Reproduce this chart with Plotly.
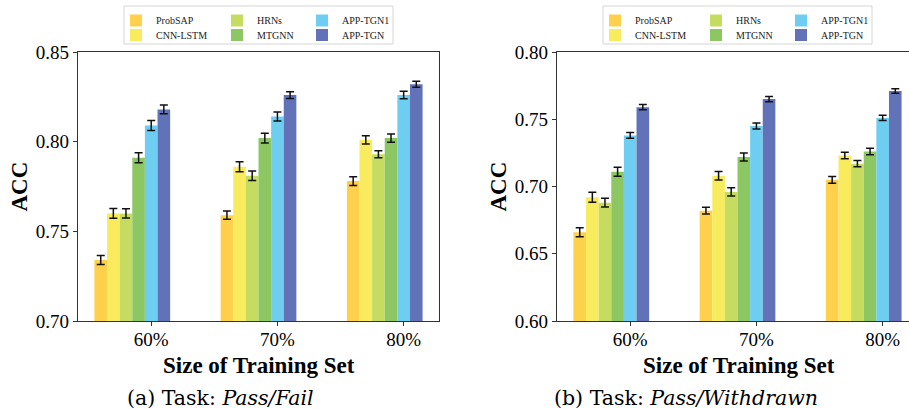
import plotly.graph_objects as go

W, H = 909, 409

# ---------------- data ----------------
size_labels = ["60%", "70%", "80%"]
methods = ["ProbSAP", "CNN-LSTM", "HRNs", "MTGNN", "APP-TGN1", "APP-TGN"]
colors = ["#FFD04C", "#F8EC5E", "#C6DC60", "#8CC764", "#6ECEF2", "#6272B8"]

# Task (a): Pass/Fail  (ACC)
pf_probsap = [0.734, 0.759, 0.778]
pf_cnnlstm = [0.760, 0.786, 0.801]
pf_hrns = [0.760, 0.781, 0.793]
pf_mtgnn = [0.791, 0.802, 0.802]
pf_apptgn1 = [0.809, 0.814, 0.826]
pf_apptgn = [0.818, 0.826, 0.832]

pf_probsap_err = [0.0025, 0.0023, 0.0025]
pf_cnnlstm_err = [0.0027, 0.0028, 0.0023]
pf_hrns_err = [0.0026, 0.0026, 0.0020]
pf_mtgnn_err = [0.0028, 0.0027, 0.0023]
pf_apptgn1_err = [0.0028, 0.0025, 0.0021]
pf_apptgn_err = [0.0024, 0.0019, 0.0017]

# Task (b): Pass/Withdrawn  (ACC)
pw_probsap = [0.666, 0.682, 0.705]
pw_cnnlstm = [0.692, 0.708, 0.723]
pw_hrns = [0.688, 0.696, 0.717]
pw_mtgnn = [0.711, 0.722, 0.726]
pw_apptgn1 = [0.738, 0.745, 0.751]
pw_apptgn = [0.759, 0.765, 0.771]

pw_probsap_err = [0.0033, 0.0025, 0.0025]
pw_cnnlstm_err = [0.0037, 0.0031, 0.0024]
pw_hrns_err = [0.0032, 0.0030, 0.0024]
pw_mtgnn_err = [0.0033, 0.0030, 0.0024]
pw_apptgn1_err = [0.0022, 0.0022, 0.0019]
pw_apptgn_err = [0.0020, 0.0019, 0.0016]

pf_vals = [pf_probsap, pf_cnnlstm, pf_hrns, pf_mtgnn, pf_apptgn1, pf_apptgn]
pf_errs = [pf_probsap_err, pf_cnnlstm_err, pf_hrns_err, pf_mtgnn_err, pf_apptgn1_err, pf_apptgn_err]
pw_vals = [pw_probsap, pw_cnnlstm, pw_hrns, pw_mtgnn, pw_apptgn1, pw_apptgn]
pw_errs = [pw_probsap_err, pw_cnnlstm_err, pw_hrns_err, pw_mtgnn_err, pw_apptgn1_err, pw_apptgn_err]

x_title = "Size of Training Set"
y_title = "ACC"
captions = ["(a) Task: <i>Pass/Fail</i>", "(b) Task: <i>Pass/Withdrawn</i>"]

# ---------------- helpers ----------------
SERIF = "Liberation Serif"
x_pos = list(range(len(size_labels)))
tick_pos = [p + 0.15 for p in x_pos]  # tick sits under the 5th bar of each group


def px_x(p):
    return p / W


def px_y(p):
    return 1 - p / H


fig = go.Figure()

# one legend per entry so rows can be packed tightly (3 columns x 2 rows)
leg_left = [f"legend{i + 1}" if i else "legend" for i in range(6)]
leg_right = [f"legend{i + 7}" for i in range(6)]

for i, m in enumerate(methods):
    fig.add_trace(go.Bar(
        x=x_pos, y=pf_vals[i], name=m, marker=dict(color=colors[i], line=dict(width=0)),
        error_y=dict(type="data", array=pf_errs[i], color="#111111", thickness=1.5, width=4),
        xaxis="x", yaxis="y", legend=leg_left[i], showlegend=True,
    ))
for i, m in enumerate(methods):
    fig.add_trace(go.Bar(
        x=x_pos, y=pw_vals[i], name=m, marker=dict(color=colors[i], line=dict(width=0)),
        error_y=dict(type="data", array=pw_errs[i], color="#111111", thickness=1.5, width=4),
        xaxis="x2", yaxis="y2", legend=leg_right[i], showlegend=True,
    ))

axis_line = "#333333"
tickfont = dict(family=SERIF, size=19, color="#000000")
titlefont = dict(family=SERIF, size=23, color="#000000", weight="bold")

ydom = [px_y(321), px_y(52)]

common_x = dict(
    tickmode="array", tickvals=tick_pos, ticktext=size_labels,
    showgrid=False, zeroline=False, showline=True, linecolor=axis_line, linewidth=1.2,
    ticks="outside", ticklen=4, tickcolor=axis_line, tickwidth=1.2,
    tickfont=tickfont, automargin=False, ticklabelstandoff=-3,
)
common_y = dict(
    showgrid=False, zeroline=False, showline=True, linecolor=axis_line, linewidth=1.2,
    ticks="outside", ticklen=4, tickcolor=axis_line, tickwidth=1.2,
    tickfont=tickfont, tickformat=".2f", automargin=False,
)

fig.update_layout(
    width=W, height=H,
    margin=dict(l=0, r=0, t=0, b=0),
    paper_bgcolor="white", plot_bgcolor="white",
    showlegend=True,
    barmode="group", bargap=0.4, bargroupgap=0,
    xaxis=dict(common_x, domain=[px_x(78), px_x(439)], range=[-0.43, 2.43], anchor="y", mirror=True),
    yaxis=dict(common_y, domain=ydom, range=[0.70, 0.85], dtick=0.05, anchor="x", mirror=True),
    xaxis2=dict(common_x, domain=[px_x(557), 1.0], range=[-0.43, 2.43 - 9 / 126.2], anchor="y2", mirror=True),
    yaxis2=dict(common_y, domain=ydom, range=[0.60, 0.80], dtick=0.05, anchor="x2", mirror=False),
    font=dict(family=SERIF, color="#000000"),
)

# legend entries: columns (text left edge) and rows (centre y), in pixels
leg_font = dict(family=SERIF, size=10, color="#222222")
col_text = [156, 257, 342]
row_y = [20.5, 35]
for panel_shift, names in ((0, leg_left), (479, leg_right)):
    for i, name in enumerate(names):
        col, row = i // 2, i % 2
        fig.update_layout({name: dict(
            x=px_x(col_text[col] + panel_shift - 40), y=px_y(row_y[row]),
            xanchor="left", yanchor="middle",
            bgcolor="rgba(0,0,0,0)", borderwidth=0, font=leg_font, tracegroupgap=0,
            itemwidth=30, orientation="v",
        )})

# legend frames
for x0 in (124, 603):
    fig.add_shape(type="rect", xref="paper", yref="paper",
                  x0=px_x(x0), x1=px_x(x0 + 269), y0=px_y(44), y1=px_y(6),
                  line=dict(color="#D5D5D5", width=1), fillcolor="rgba(255,255,255,0.8)", layer="below")

# axis titles
for cx in (258.5, 739):
    fig.add_annotation(text=x_title, x=px_x(cx), y=px_y(365), xref="paper", yref="paper",
                       showarrow=False, font=titlefont, xanchor="center", yanchor="middle")
for cx in (19, 498):
    fig.add_annotation(text=y_title, x=px_x(cx), y=px_y(186.5), xref="paper", yref="paper",
                       showarrow=False, font=titlefont, textangle=-90,
                       xanchor="center", yanchor="middle")

# captions
for cx, cap in zip((220, 686), captions):
    fig.add_annotation(text=cap, x=px_x(cx), y=px_y(398),
                       xref="paper", yref="paper", showarrow=False,
                       font=dict(family="DejaVu Serif", size=20.5, color="#000000"),
                       xanchor="center", yanchor="middle")

fig.write_html("out.html", config={"displayModeBar": False},
               post_script="document.body.style.margin='0';document.body.style.overflow='hidden';")
